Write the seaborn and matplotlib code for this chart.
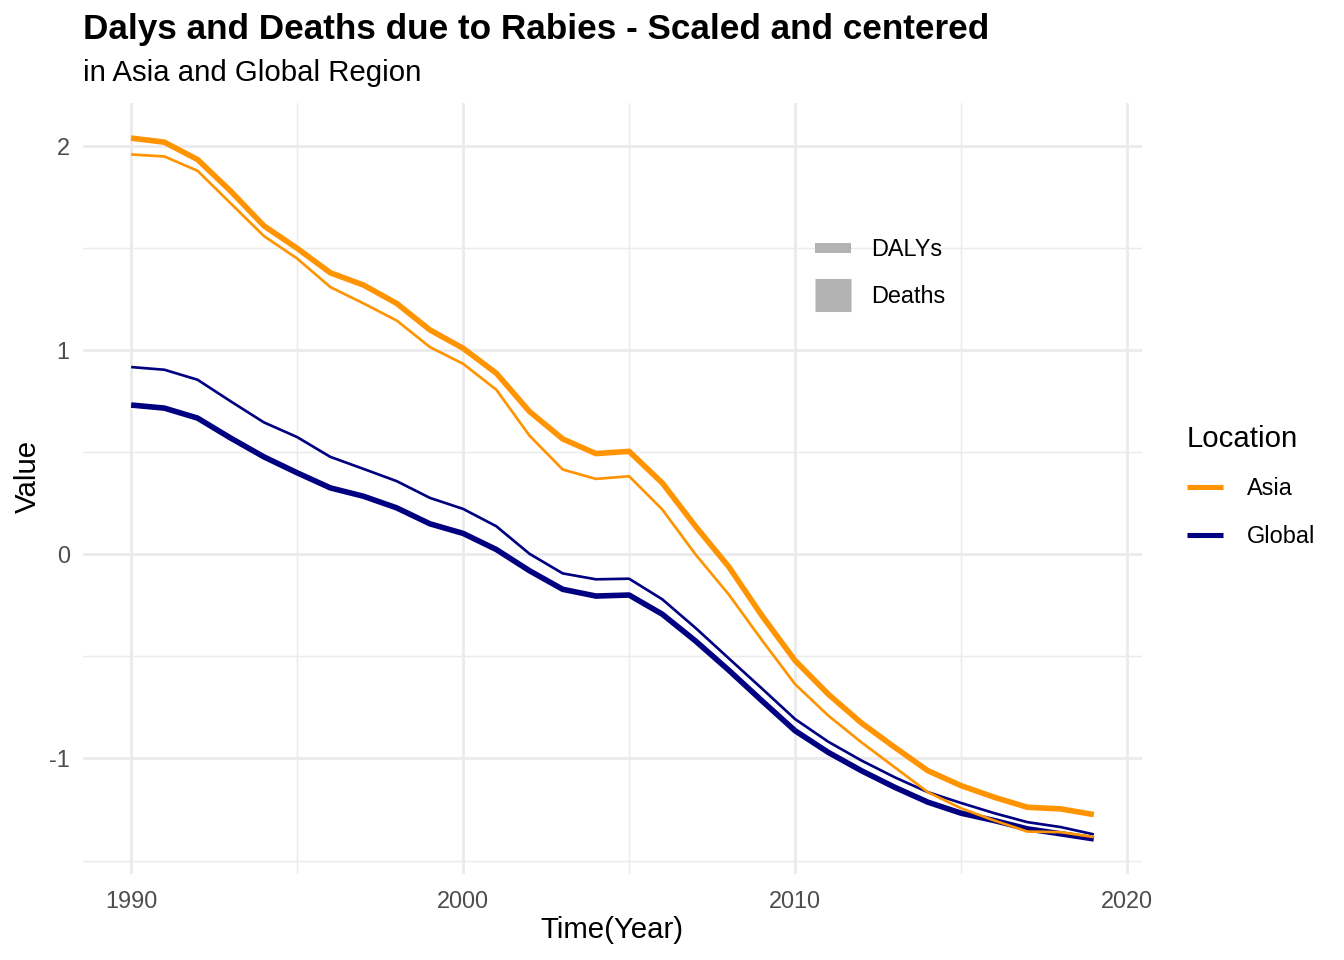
import pandas as pd
import seaborn as sns
import matplotlib.pyplot as plt
from matplotlib.lines import Line2D

# values (scaled and centered)
years = list(range(1990, 2020))

asia_deaths = [2.04, 2.02, 1.935, 1.78, 1.61, 1.50, 1.38, 1.32, 1.23, 1.10,
               1.01, 0.888, 0.70, 0.566, 0.494, 0.505, 0.35, 0.138, -0.06, -0.30,
               -0.52, -0.685, -0.826, -0.945, -1.06, -1.133, -1.19, -1.239, -1.247, -1.275]
asia_dalys = [1.96, 1.95, 1.88, 1.72, 1.56, 1.45, 1.31, 1.23, 1.146, 1.016,
              0.934, 0.807, 0.582, 0.416, 0.37, 0.383, 0.22, 0.0, -0.196, -0.42,
              -0.636, -0.79, -0.921, -1.043, -1.165, -1.244, -1.304, -1.358, -1.361, -1.385]
global_deaths = [0.732, 0.717, 0.668, 0.57, 0.478, 0.40, 0.326, 0.285, 0.228, 0.15,
                 0.103, 0.024, -0.08, -0.171, -0.204, -0.199, -0.293, -0.424, -0.567, -0.717,
                 -0.864, -0.97, -1.06, -1.141, -1.214, -1.268, -1.304, -1.345, -1.369, -1.394]
global_dalys = [0.918, 0.905, 0.856, 0.75, 0.647, 0.575, 0.478, 0.419, 0.359, 0.277,
                0.223, 0.138, 0.003, -0.093, -0.122, -0.119, -0.22, -0.36, -0.509, -0.657,
                -0.807, -0.918, -1.01, -1.092, -1.165, -1.218, -1.268, -1.312, -1.336, -1.372]

locations = ["Asia", "Global"]
measures = ["DALYs", "Deaths"]

#long format table for seaborn
series = {("Global", "DALYs"): global_dalys, ("Global", "Deaths"): global_deaths,
          ("Asia", "DALYs"): asia_dalys, ("Asia", "Deaths"): asia_deaths}
rows = []
for (loc, meas), vals in series.items():
    for yr, v in zip(years, vals):
        rows.append({"Year": yr, "Value": v, "Location": loc, "Measure": meas})
df = pd.DataFrame(rows)

sns.set_style("white")
plt.rcParams["font.family"] = ["Liberation Sans", "DejaVu Sans"]
plt.rcParams["axes.unicode_minus"] = False
plt.rcParams["text.color"] = "black"

colors = {"Asia": "#FF9300", "Global": "#000080"}

fig = plt.figure(figsize=(7, 5), dpi=192)
ax = fig.add_axes([83/1344, 86/960, (1142-83)/1344, (874-103)/960])

sns.lineplot(data=df, x="Year", y="Value", hue="Location", size="Measure",
             hue_order=["Global", "Asia"], size_order=measures,
             sizes={"DALYs": 1.0, "Deaths": 2.1}, palette=colors,
             estimator=None, errorbar=None, legend=False, ax=ax)
for ln in ax.lines:
    ln.set_solid_joinstyle("round")
    ln.set_solid_capstyle("butt")

ax.set_xlim(1988.55, 2020.45)
ax.set_ylim(-1.566, 2.212)
ax.set_xticks([1990, 2000, 2010, 2020])
ax.set_xticks([1995, 2005, 2015], minor=True)
ax.set_yticks([-1, 0, 1, 2])
ax.set_yticks([-1.5, -0.5, 0.5, 1.5], minor=True)
ax.grid(which="major", color="#EBEBEB", linewidth=1.07)
ax.grid(which="minor", color="#EBEBEB", linewidth=0.53)
ax.set_axisbelow(True)
for s in ax.spines.values():
    s.set_visible(False)
ax.tick_params(which="both", length=0)
ax.tick_params(axis="x", labelsize=8.8, labelcolor="#4D4D4D", pad=6)
ax.tick_params(axis="y", labelsize=8.8, labelcolor="#4D4D4D", pad=5)
ax.set_xlabel("")
ax.set_ylabel("")

fig.text(612/1344, 1-930/960, "Time(Year)", fontsize=11, ha="center", va="center", color="black")
fig.text(28/1344, 1-476/960, "Value", fontsize=11, rotation=90, ha="center", va="center", color="black")

fig.text(83/1344, 1-29/960, "Dalys and Deaths due to Rabies - Scaled and centered",
         fontsize=13.2, fontweight="bold", ha="left", va="center", color="black")
fig.text(83/1344, 1-73/960, "in Asia and Global Region", fontsize=11, ha="left", va="center",
         color="black")

# size legend (grey blocks) inside the panel
size_handles = [Line2D([], [], color="#B3B3B3", lw=3.75, solid_capstyle="butt"),
                Line2D([], [], color="#B3B3B3", lw=12.4, solid_capstyle="butt")]
leg1 = fig.legend(size_handles, measures, loc="upper left",
                  bbox_to_anchor=(815/1344, 1-238/960), frameon=False, fontsize=8.8,
                  handlelength=1.53, handletextpad=0.85, labelspacing=1.04, borderpad=0,
                  borderaxespad=0)
for t in leg1.get_texts():
    t.set_color("black")

# colour legend to the right
loc_handles = [Line2D([], [], color=colors[l], lw=1.9, solid_capstyle="butt") for l in locations]
leg2 = fig.legend(loc_handles, locations, loc="upper left", title="Location",
                  bbox_to_anchor=(1187/1344, 1-425/960), frameon=False, fontsize=8.8,
                  title_fontsize=11, handlelength=1.55, handletextpad=1.0,
                  labelspacing=1.04, borderpad=0, borderaxespad=0, alignment="left")
for t in leg2.get_texts():
    t.set_color("black")
leg2.get_title().set_color("black")

fig.savefig("out.png", dpi=192)
